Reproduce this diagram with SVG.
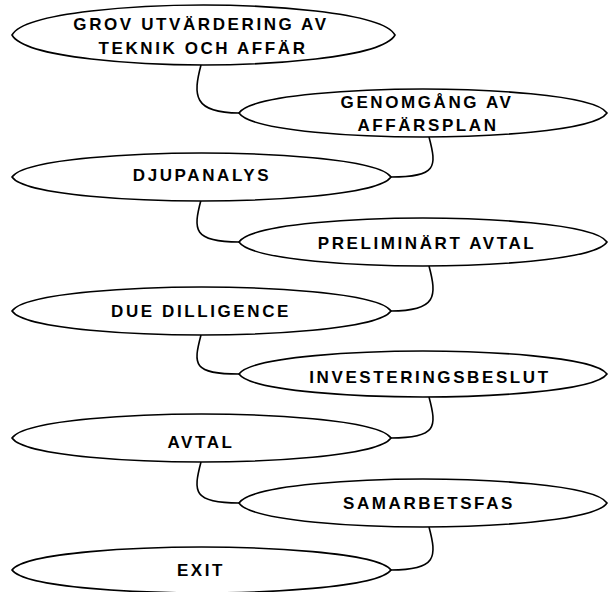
<svg xmlns="http://www.w3.org/2000/svg" width="608" height="592" viewBox="0 0 608 592">
<style>
.n{fill:#fff;stroke:#000;stroke-width:1.6}
.c{fill:none;stroke:#000;stroke-width:1.6}
text{font-family:"Liberation Sans",Arial,sans-serif;font-weight:bold;font-size:17px;letter-spacing:2.6px;fill:#000;text-anchor:middle}
</style>
<rect width="608" height="592" fill="#fff"/>
<g id="connectors">
<path class="c" d="M201,65 C193,95 193,113 239,113"/>
<path class="c" d="M429,137 C437,167 437,177 391,177"/>
<path class="c" d="M201,200 C193,230 193,242 239,242"/>
<path class="c" d="M429,266 C437,296 437,311 391,311"/>
<path class="c" d="M201,335 C193,365 193,374 239,374"/>
<path class="c" d="M429,397 C437,427 437,438 391,438"/>
<path class="c" d="M201,462 C193,492 193,503 239,503"/>
<path class="c" d="M429,527 C437,557 437,570 391,570"/>
</g>
<g id="n1"><path class="n" vector-effect="non-scaling-stroke" transform="translate(203.5,35) scale(191.5,30)" d="M-1,0 C-0.93,-0.8 -0.3,-1 0,-1 C0.3,-1 0.93,-0.8 1,0 C0.93,0.8 0.3,1 0,1 C-0.3,1 -0.93,0.8 -1,0Z"/><text x="201" y="30">GROV UTVÄRDERING AV</text><text x="203" y="54">TEKNIK OCH AFFÄR</text></g>
<g id="n2"><path class="n" vector-effect="non-scaling-stroke" transform="translate(423,113) scale(184,24)" d="M-1,0 C-0.93,-0.8 -0.3,-1 0,-1 C0.3,-1 0.93,-0.8 1,0 C0.93,0.8 0.3,1 0,1 C-0.3,1 -0.93,0.8 -1,0Z"/><text x="427" y="108">GENOMGÅNG AV</text><text x="428" y="131">AFFÄRSPLAN</text></g>
<g id="n3"><path class="n" vector-effect="non-scaling-stroke" transform="translate(201.5,177) scale(189.5,24)" d="M-1,0 C-0.93,-0.8 -0.3,-1 0,-1 C0.3,-1 0.93,-0.8 1,0 C0.93,0.8 0.3,1 0,1 C-0.3,1 -0.93,0.8 -1,0Z"/><text x="202" y="181">DJUPANALYS</text></g>
<g id="n4"><path class="n" vector-effect="non-scaling-stroke" transform="translate(423,242) scale(184,24)" d="M-1,0 C-0.93,-0.8 -0.3,-1 0,-1 C0.3,-1 0.93,-0.8 1,0 C0.93,0.8 0.3,1 0,1 C-0.3,1 -0.93,0.8 -1,0Z"/><text x="427" y="249">PRELIMINÄRT AVTAL</text></g>
<g id="n5"><path class="n" vector-effect="non-scaling-stroke" transform="translate(201.5,311) scale(189.5,24)" d="M-1,0 C-0.93,-0.8 -0.3,-1 0,-1 C0.3,-1 0.93,-0.8 1,0 C0.93,0.8 0.3,1 0,1 C-0.3,1 -0.93,0.8 -1,0Z"/><text x="201" y="317">DUE DILLIGENCE</text></g>
<g id="n6"><path class="n" vector-effect="non-scaling-stroke" transform="translate(423,374) scale(184,23)" d="M-1,0 C-0.93,-0.8 -0.3,-1 0,-1 C0.3,-1 0.93,-0.8 1,0 C0.93,0.8 0.3,1 0,1 C-0.3,1 -0.93,0.8 -1,0Z"/><text x="430" y="383">INVESTERINGSBESLUT</text></g>
<g id="n7"><path class="n" vector-effect="non-scaling-stroke" transform="translate(201.5,438) scale(189.5,24)" d="M-1,0 C-0.93,-0.8 -0.3,-1 0,-1 C0.3,-1 0.93,-0.8 1,0 C0.93,0.8 0.3,1 0,1 C-0.3,1 -0.93,0.8 -1,0Z"/><text x="201" y="448">AVTAL</text></g>
<g id="n8"><path class="n" vector-effect="non-scaling-stroke" transform="translate(423,503) scale(184,24)" d="M-1,0 C-0.93,-0.8 -0.3,-1 0,-1 C0.3,-1 0.93,-0.8 1,0 C0.93,0.8 0.3,1 0,1 C-0.3,1 -0.93,0.8 -1,0Z"/><text x="429" y="509">SAMARBETSFAS</text></g>
<g id="n9"><path class="n" vector-effect="non-scaling-stroke" transform="translate(201.5,570) scale(189.5,23)" d="M-1,0 C-0.93,-0.8 -0.3,-1 0,-1 C0.3,-1 0.93,-0.8 1,0 C0.93,0.8 0.3,1 0,1 C-0.3,1 -0.93,0.8 -1,0Z"/><text x="201" y="576">EXIT</text></g>
</svg>
